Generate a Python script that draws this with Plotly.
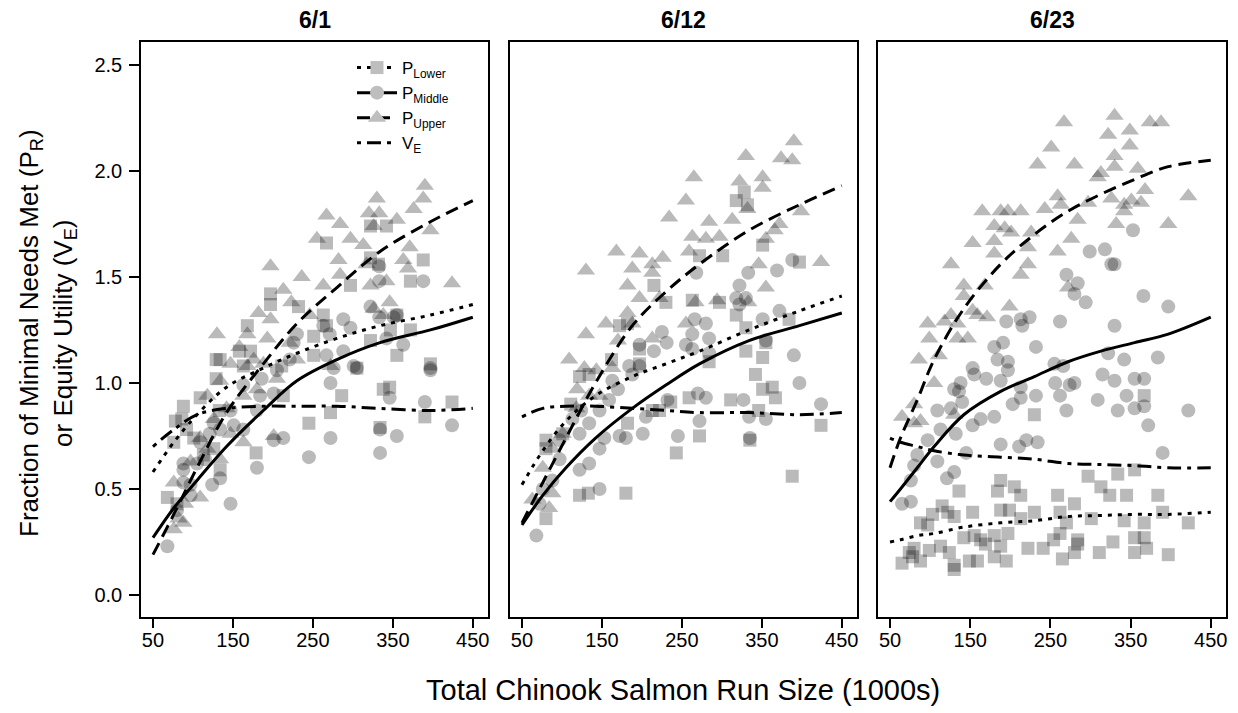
import plotly.graph_objects as go

# ---------------- data ----------------
panel_titles = ["6/1", "6/12", "6/23"]
x_ticks = [50, 150, 250, 350, 450]
y_ticks = [0.0, 0.5, 1.0, 1.5, 2.0, 2.5]
y_tick_text = ["0.0", "0.5", "1.0", "1.5", "2.0", "2.5"]

# Panel 6/1
p1_upper_x = [390, 388, 330, 320, 333, 355, 376, 267, 284, 326, 397, 255, 297, 313, 371, 282, 236, 197, 263, 284,
              322, 342, 363, 369, 424, 213, 223, 182, 246, 326, 346, 338, 197, 168, 130, 193, 158, 221, 272, 168,
              147, 134, 118, 163, 180, 142, 126, 109, 97, 201, 163, 109, 76, 90, 82, 88, 76, 118, 147, 134,
              188, 205, 230, 176, 317]
p1_upper_y = [1.93, 1.87, 1.87, 1.80, 1.80, 1.77, 1.82, 1.79, 1.75, 1.74, 1.72, 1.68, 1.68, 1.65, 1.64, 1.58, 1.50,
              1.55, 1.46, 1.51, 1.46, 1.48, 1.58, 1.54, 1.47, 1.44, 1.38, 1.33, 1.32, 1.35, 1.38, 1.32, 1.30, 1.23,
              1.23, 1.21, 1.17, 1.19, 1.08, 1.08, 1.09, 1.01, 0.94, 0.94, 0.97, 0.88, 0.83, 0.74, 0.63, 0.75, 0.72,
              0.46, 0.53, 0.43, 0.36, 0.34, 0.31, 0.69, 0.76, 0.64, 1.09, 1.02, 1.11, 1.11, 1.56]
p1_lower_x = [388, 267, 322, 342, 322, 332, 372, 297, 197, 197, 232, 263, 267, 251, 168, 172, 129, 134, 129, 158,
              163, 211, 251, 305, 322, 347, 355, 372, 355, 397, 338, 346, 286, 109, 88, 86, 78, 92, 101, 76,
              245, 272, 179, 213, 133, 68, 80, 334, 390, 424, 134, 113, 126]
p1_lower_y = [1.58, 1.66, 1.74, 1.74, 1.59, 1.56, 1.48, 1.46, 1.42, 1.37, 1.36, 1.32, 1.27, 1.22, 1.27, 1.15, 1.11,
              1.11, 1.02, 1.15, 1.08, 1.08, 1.13, 1.07, 1.20, 1.25, 1.32, 1.25, 1.13, 1.09, 0.97, 0.98, 0.94, 0.93,
              0.89, 0.83, 0.82, 0.78, 0.74, 0.72, 0.81, 0.86, 0.67, 0.94, 0.87, 0.46, 0.43, 0.79, 0.84, 0.91, 0.59,
              0.66, 0.69]
p1_middle_x = [388, 333, 333, 322, 333, 351, 355, 288, 297, 271, 263, 230, 226, 221, 267, 276, 272, 288, 305, 342,
               363, 397, 205, 201, 186, 184, 163, 180, 163, 151, 147, 126, 121, 109, 134, 115, 134, 124, 97, 88,
               88, 105, 88, 97, 80, 68, 147, 180, 201, 213, 245, 272, 334, 334, 355, 346, 390, 424, 397, 301]
p1_middle_y = [1.48, 1.55, 1.48, 1.36, 1.31, 1.31, 1.32, 1.30, 1.26, 1.23, 1.27, 1.23, 1.19, 1.11, 1.13, 1.07, 1.00,
               1.15, 1.07, 1.21, 1.18, 1.07, 1.06, 0.95, 1.02, 0.94, 0.99, 0.87, 0.78, 0.80, 0.87, 0.81, 0.76, 0.72,
               0.78, 0.64, 0.55, 0.52, 0.52, 0.59, 0.62, 0.62, 0.53, 0.47, 0.40, 0.23, 0.43, 0.60, 0.73, 0.74, 0.65,
               0.74, 0.67, 0.78, 0.75, 0.93, 0.91, 0.80, 1.06, 1.08]
p1_curve_x = [50, 76, 105, 142, 188, 230, 280, 334, 397, 450]
p1_lower_fit = [0.58, 0.72, 0.85, 0.98, 1.07, 1.14, 1.21, 1.27, 1.32, 1.37]
p1_middle_fit = [0.27, 0.41, 0.54, 0.70, 0.87, 1.01, 1.11, 1.19, 1.25, 1.31]
p1_upper_fit = [0.19, 0.38, 0.60, 0.86, 1.09, 1.28, 1.45, 1.62, 1.76, 1.86]
p1_ve_fit = [0.70, 0.78, 0.85, 0.88, 0.89, 0.89, 0.89, 0.88, 0.87, 0.88]

# Panel 6/12
p2_upper_x = [390, 330, 374, 388, 265, 322, 351, 351, 255, 332, 234, 284, 313, 399, 372, 263, 280, 297, 366, 355,
              259, 168, 197, 226, 213, 188, 130, 213, 346, 424, 182, 355, 222, 197, 267, 294, 333, 155, 182, 188,
              255, 213, 170, 130, 109, 128, 143, 163, 119, 134, 101, 88, 76, 88, 63, 84, 118, 147]
p2_upper_y = [2.14, 2.07, 2.06, 2.05, 1.97, 1.95, 1.97, 1.92, 1.86, 1.82, 1.78, 1.76, 1.77, 1.81, 1.75, 1.69, 1.68,
              1.69, 1.72, 1.68, 1.62, 1.62, 1.61, 1.59, 1.56, 1.54, 1.53, 1.52, 1.56, 1.57, 1.46, 1.45, 1.40, 1.40,
              1.38, 1.39, 1.38, 1.28, 1.33, 1.28, 1.28, 1.21, 1.20, 1.23, 1.11, 1.07, 1.06, 1.07, 0.97, 0.94, 0.76,
              0.69, 0.60, 0.48, 0.45, 0.41, 0.88, 0.94]
p2_lower_x = [328, 318, 332, 272, 301, 351, 397, 215, 230, 263, 297, 318, 330, 182, 172, 197, 162, 122, 134, 197,
              355, 384, 330, 351, 284, 342, 351, 363, 367, 311, 259, 222, 213, 236, 424, 388, 243, 272, 182, 122,
              133, 180, 80, 80, 111, 335, 346, 101, 80]
p2_lower_y = [1.90, 1.86, 1.84, 1.60, 1.60, 1.65, 1.57, 1.46, 1.38, 1.39, 1.38, 1.32, 1.26, 1.28, 1.27, 1.16, 1.11,
              1.03, 1.04, 1.09, 1.19, 1.30, 1.15, 1.12, 1.10, 1.04, 0.97, 0.98, 0.93, 0.92, 0.93, 0.87, 0.87, 0.91,
              0.80, 0.56, 0.67, 0.75, 0.81, 0.47, 0.48, 0.48, 0.36, 0.69, 0.90, 0.73, 0.87, 0.76, 0.73]
p2_middle_x = [388, 369, 268, 333, 322, 318, 330, 322, 266, 280, 284, 225, 231, 255, 263, 284, 351, 355, 372, 390,
               397, 424, 197, 215, 184, 197, 188, 163, 170, 159, 147, 124, 113, 134, 122, 97, 97, 147, 153, 134,
               122, 88, 76, 72, 68, 147, 172, 180, 201, 205, 232, 245, 272, 270, 280, 327, 334, 335, 355, 263]
p2_middle_y = [1.58, 1.53, 1.52, 1.52, 1.46, 1.40, 1.40, 1.37, 1.30, 1.28, 1.21, 1.24, 1.19, 1.18, 1.16, 1.14, 1.30,
               1.20, 1.34, 1.13, 1.00, 0.90, 1.18, 1.15, 1.08, 1.08, 1.04, 1.01, 0.97, 0.92, 0.87, 0.87, 0.83, 0.81,
               0.76, 0.73, 0.64, 0.69, 0.74, 0.62, 0.59, 0.54, 0.50, 0.43, 0.28, 0.50, 0.75, 0.74, 0.76, 0.84, 0.92,
               0.75, 0.82, 0.95, 0.93, 0.92, 0.84, 0.74, 0.83, 1.23]
p2_curve_x = [50, 76, 105, 142, 188, 230, 272, 334, 397, 450]
p2_lower_fit = [0.52, 0.68, 0.82, 0.94, 1.03, 1.09, 1.15, 1.25, 1.34, 1.41]
p2_middle_fit = [0.33, 0.47, 0.60, 0.74, 0.88, 0.99, 1.09, 1.20, 1.27, 1.33]
p2_upper_fit = [0.34, 0.53, 0.74, 1.00, 1.27, 1.43, 1.56, 1.72, 1.84, 1.93]
p2_ve_fit = [0.84, 0.88, 0.89, 0.89, 0.88, 0.87, 0.86, 0.86, 0.85, 0.86]

# Panel 6/23
p3_upper_x = [267, 330, 374, 388, 322, 349, 251, 349, 234, 280, 330, 330, 313, 309, 359, 368, 422, 259, 263, 297,
              326, 342, 351, 363, 342, 165, 188, 197, 213, 243, 284, 332, 397, 180, 193, 201, 226, 222, 180, 153,
              259, 276, 180, 222, 126, 213, 142, 168, 142, 153, 159, 171, 199, 97, 118, 126, 134, 99, 134, 147,
              111, 86, 105, 80, 130, 65, 80, 88, 272]
p3_upper_y = [2.23, 2.26, 2.23, 2.23, 2.17, 2.19, 2.11, 2.12, 2.03, 2.03, 2.07, 2.02, 1.99, 1.97, 2.01, 1.91, 1.88,
              1.88, 1.84, 1.85, 1.87, 1.84, 1.86, 1.85, 1.81, 1.81, 1.81, 1.81, 1.81, 1.82, 1.77, 1.75, 1.75, 1.74,
              1.73, 1.71, 1.71, 1.64, 1.67, 1.66, 1.62, 1.68, 1.61, 1.56, 1.56, 1.51, 1.46, 1.46, 1.41, 1.34, 1.32,
              1.31, 1.36, 1.28, 1.29, 1.32, 1.28, 1.21, 1.21, 1.21, 1.13, 1.11, 1.00, 0.90, 0.85, 0.84, 0.81, 0.82,
              1.45]
p3_middle_x = [353, 299, 318, 326, 330, 270, 284, 280, 294, 366, 397, 224, 213, 195, 215, 262, 330, 232, 180, 191,
               184, 197, 153, 155, 170, 197, 188, 213, 255, 266, 256, 262, 280, 274, 315, 322, 330, 342, 355, 367,
               384, 345, 355, 367, 309, 334, 270, 232, 213, 203, 138, 130, 140, 136, 109, 126, 163, 153, 180, 132,
               113, 97, 84, 80, 76, 65, 76, 109, 121, 130, 145, 188, 211, 220, 234, 390, 422, 372]
p3_middle_y = [1.72, 1.62, 1.63, 1.56, 1.56, 1.51, 1.47, 1.42, 1.38, 1.41, 1.36, 1.31, 1.30, 1.29, 1.27, 1.29, 1.27,
               1.17, 1.17, 1.19, 1.11, 1.10, 1.07, 1.04, 1.02, 1.06, 1.01, 0.98, 1.09, 1.08, 1.00, 0.94, 1.00, 0.99,
               1.04, 1.14, 1.01, 1.11, 1.02, 1.02, 1.12, 0.94, 0.88, 0.89, 0.92, 0.87, 0.87, 0.94, 0.93, 0.90, 1.00,
               0.97, 0.91, 0.96, 0.87, 0.88, 0.83, 0.80, 0.84, 0.76, 0.78, 0.73, 0.66, 0.61, 0.54, 0.43, 0.44, 0.63,
               0.55, 0.58, 0.67, 0.71, 0.70, 0.73, 0.72, 0.67, 0.87, 0.80]
p3_lower_x = [230, 367, 297, 334, 355, 188, 205, 136, 184, 313, 324, 345, 384, 259, 280, 213, 188, 199, 230, 262,
              153, 115, 122, 130, 103, 88, 97, 213, 270, 301, 342, 367, 390, 422, 142, 155, 169, 180, 197, 188,
              163, 254, 262, 284, 284, 355, 367, 370, 328, 113, 99, 80, 74, 78, 65, 88, 124, 130, 130, 149,
              159, 180, 195, 222, 241, 265, 280, 311, 355, 397]
p3_lower_y = [0.85, 0.94, 0.56, 0.57, 0.59, 0.54, 0.51, 0.49, 0.49, 0.51, 0.47, 0.47, 0.47, 0.47, 0.43, 0.47, 0.40,
              0.40, 0.39, 0.39, 0.39, 0.42, 0.39, 0.37, 0.38, 0.34, 0.33, 0.36, 0.34, 0.36, 0.35, 0.34, 0.39, 0.34,
              0.27, 0.28, 0.24, 0.28, 0.29, 0.23, 0.26, 0.26, 0.29, 0.26, 0.24, 0.27, 0.27, 0.22, 0.25, 0.23, 0.21,
              0.22, 0.20, 0.18, 0.15, 0.16, 0.20, 0.14, 0.12, 0.16, 0.16, 0.18, 0.16, 0.22, 0.22, 0.17, 0.20, 0.20,
              0.20, 0.19]
p3_curve_x = [50, 63, 84, 105, 142, 188, 230, 272, 313, 355, 397, 450]
p3_lower_fit = [0.25, 0.26, 0.28, 0.29, 0.32, 0.34, 0.35, 0.37, 0.375, 0.38, 0.38, 0.39]
p3_middle_fit = [0.44, 0.50, 0.60, 0.70, 0.85, 0.96, 1.03, 1.10, 1.15, 1.19, 1.23, 1.31]
p3_upper_fit = [0.60, 0.74, 0.92, 1.11, 1.35, 1.56, 1.70, 1.81, 1.89, 1.96, 2.02, 2.05]
p3_ve_fit = [0.74, 0.72, 0.70, 0.68, 0.66, 0.65, 0.64, 0.62, 0.615, 0.61, 0.60, 0.60]

# ---------------- figure ----------------
W, H = 1238, 713
marker_col = "rgba(0,0,0,0.27)"
styles = {
    "lower": dict(symbol="square", size=13, dash="4px,6px"),
    "middle": dict(symbol="circle", size=14, dash="solid"),
    "upper": dict(symbol="triangle-up", size=16, dash="13px,7px"),
    "ve": dict(symbol=None, size=0, dash="4px,6px,14px,6px"),
}

panels = [
    dict(lx=p1_lower_x, ly=p1_lower_y, mx=p1_middle_x, my=p1_middle_y, ux=p1_upper_x, uy=p1_upper_y,
         cx=p1_curve_x, lf=p1_lower_fit, mf=p1_middle_fit, uf=p1_upper_fit, vf=p1_ve_fit),
    dict(lx=p2_lower_x, ly=p2_lower_y, mx=p2_middle_x, my=p2_middle_y, ux=p2_upper_x, uy=p2_upper_y,
         cx=p2_curve_x, lf=p2_lower_fit, mf=p2_middle_fit, uf=p2_upper_fit, vf=p2_ve_fit),
    dict(lx=p3_lower_x, ly=p3_lower_y, mx=p3_middle_x, my=p3_middle_y, ux=p3_upper_x, uy=p3_upper_y,
         cx=p3_curve_x, lf=p3_lower_fit, mf=p3_middle_fit, uf=p3_upper_fit, vf=p3_ve_fit),
]

fig = go.Figure()
for i, p in enumerate(panels):
    xa = "x" if i == 0 else f"x{i+1}"
    ya = "y" if i == 0 else f"y{i+1}"
    for key, xs, ys in [("lower", p["lx"], p["ly"]), ("middle", p["mx"], p["my"]), ("upper", p["ux"], p["uy"])]:
        st = styles[key]
        fig.add_trace(go.Scatter(x=xs, y=ys, mode="markers", xaxis=xa, yaxis=ya, showlegend=False,
                                 marker=dict(symbol=st["symbol"], size=st["size"], color=marker_col,
                                             line=dict(width=0)), hoverinfo="skip"))
    for key, ys in [("lower", p["lf"]), ("middle", p["mf"]), ("upper", p["uf"]), ("ve", p["vf"])]:
        fig.add_trace(go.Scatter(x=p["cx"], y=ys, mode="lines", xaxis=xa, yaxis=ya, showlegend=False,
                                 line=dict(color="black", width=3, dash=styles[key]["dash"], shape="spline",
                                           smoothing=1.0), hoverinfo="skip"))

# legend entries
leg_names = ["P<sub>Lower</sub>", "P<sub>Middle</sub>", "P<sub>Upper</sub>", "V<sub>E</sub>"]
for key, name in zip(["lower", "middle", "upper", "ve"], leg_names):
    st = styles[key]
    if st["symbol"]:
        fig.add_trace(go.Scatter(x=[None], y=[None], mode="lines+markers", name=name,
                                 line=dict(color="black", width=3, dash=st["dash"]),
                                 marker=dict(symbol=st["symbol"], size=st["size"], color="rgba(190,190,190,1)")))
    else:
        fig.add_trace(go.Scatter(x=[None], y=[None], mode="lines", name=name,
                                 line=dict(color="black", width=3, dash=st["dash"])))

x_domains = [(141 / W, 488 / W), (510 / W, 857 / W), (878 / W, 1226 / W)]
y_domain = (1 - 617 / H, 1 - 42 / H)
axis_font = dict(family="Liberation Sans, Arial, sans-serif", size=20, color="black")
layout = dict(
    width=W, height=H, margin=dict(l=0, r=0, t=0, b=0),
    paper_bgcolor="white", plot_bgcolor="white",
    font=dict(family="Liberation Sans, Arial, sans-serif", color="black"),
    legend=dict(x=352 / W, y=1 - 50 / H, xanchor="left", yanchor="top", bgcolor="rgba(0,0,0,0)",
                font=dict(size=17), tracegroupgap=0, itemwidth=40),
)
for i in range(3):
    xk = "xaxis" if i == 0 else f"xaxis{i+1}"
    yk = "yaxis" if i == 0 else f"yaxis{i+1}"
    layout[xk] = dict(domain=x_domains[i], range=[35, 469], tickvals=x_ticks, ticks="outside", ticklen=9,
                      tickwidth=1.5, tickcolor="black", showline=True, mirror=True, linecolor="black",
                      linewidth=1.5, showgrid=False, zeroline=False, tickfont=axis_font,
                      ticklabelstandoff=-5,
                      anchor="y" if i == 0 else f"y{i+1}")
    layout[yk] = dict(domain=y_domain, range=[-0.104, 2.608], tickvals=y_ticks, ticktext=y_tick_text,
                      ticks="outside" if i == 0 else "", ticklen=10, tickwidth=1.5, tickcolor="black",
                      showticklabels=(i == 0), showline=True, mirror=True, linecolor="black", linewidth=1.5,
                      showgrid=False, zeroline=False, tickfont=axis_font, ticklabelstandoff=3,
                      anchor="x" if i == 0 else f"x{i+1}")
fig.update_layout(**layout)

for i, t in enumerate(panel_titles):
    fig.add_annotation(text=f"<b>{t}</b>", x=(x_domains[i][0] + x_domains[i][1]) / 2, y=1 - 20 / H,
                       xref="paper", yref="paper", showarrow=False, font=dict(size=23),
                       xanchor="center", yanchor="middle")
fig.add_annotation(text="Total Chinook Salmon Run Size (1000s)", x=683.5 / W, y=1 - 690 / H,
                   xref="paper", yref="paper", showarrow=False, font=dict(size=29),
                   xanchor="center", yanchor="middle")
fig.add_annotation(text="Fraction of Minimal Needs Met (P<sub>R</sub>)<br>or Equity Utility (V<sub>E</sub>)",
                   x=47 / W, y=1 - 333 / H, xref="paper", yref="paper", showarrow=False, textangle=-90,
                   font=dict(size=26), xanchor="center", yanchor="middle")

fig.write_html("out.html")
